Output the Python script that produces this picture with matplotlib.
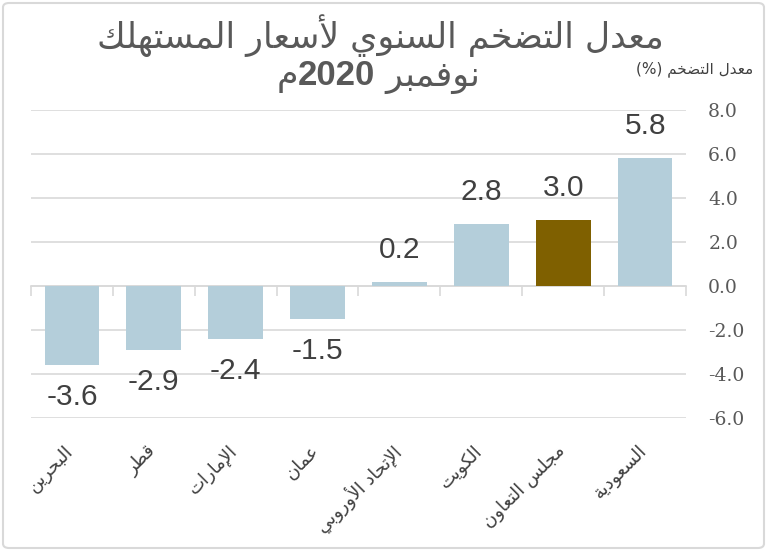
import numpy as np
import matplotlib
matplotlib.use("Agg")
import matplotlib.pyplot as plt
import matplotlib.transforms as mtransforms
from matplotlib.patches import FancyBboxPatch
from matplotlib.offsetbox import TextArea, HPacker, AnnotationBbox
from matplotlib.ticker import FuncFormatter

# ---------------- data ----------------
categories = ["البحرين", "قطر", "الإمارات", "عمان", "الإتحاد الأوروبي",
              "الكويت", "مجلس التعاون", "السعودية"]
values = [-3.6, -2.9, -2.4, -1.5, 0.2, 2.8, 3.0, 5.8]
highlight = "مجلس التعاون"
yticks = [-6.0, -4.0, -2.0, 0.0, 2.0, 4.0, 6.0, 8.0]
title_line1 = "معدل التضخم السنوي لأسعار المستهلك"
title_month = "نوفمبر"
title_year = "2020"
title_suffix = "م"
ylabel_text = "معدل التضخم (%)"

# ---------------- minimal Arabic shaping ----------------
F = {
 '\u0621': ('\uFE80', None, None, None),
 '\u0622': ('\uFE81', '\uFE82', None, None),
 '\u0623': ('\uFE83', '\uFE84', None, None),
 '\u0624': ('\uFE85', '\uFE86', None, None),
 '\u0625': ('\uFE87', '\uFE88', None, None),
 '\u0626': ('\uFE89', '\uFE8A', '\uFE8B', '\uFE8C'),
 '\u0627': ('\uFE8D', '\uFE8E', None, None),
 '\u0628': ('\uFE8F', '\uFE90', '\uFE91', '\uFE92'),
 '\u0629': ('\uFE93', '\uFE94', None, None),
 '\u062A': ('\uFE95', '\uFE96', '\uFE97', '\uFE98'),
 '\u062B': ('\uFE99', '\uFE9A', '\uFE9B', '\uFE9C'),
 '\u062C': ('\uFE9D', '\uFE9E', '\uFE9F', '\uFEA0'),
 '\u062D': ('\uFEA1', '\uFEA2', '\uFEA3', '\uFEA4'),
 '\u062E': ('\uFEA5', '\uFEA6', '\uFEA7', '\uFEA8'),
 '\u062F': ('\uFEA9', '\uFEAA', None, None),
 '\u0630': ('\uFEAB', '\uFEAC', None, None),
 '\u0631': ('\uFEAD', '\uFEAE', None, None),
 '\u0632': ('\uFEAF', '\uFEB0', None, None),
 '\u0633': ('\uFEB1', '\uFEB2', '\uFEB3', '\uFEB4'),
 '\u0634': ('\uFEB5', '\uFEB6', '\uFEB7', '\uFEB8'),
 '\u0635': ('\uFEB9', '\uFEBA', '\uFEBB', '\uFEBC'),
 '\u0636': ('\uFEBD', '\uFEBE', '\uFEBF', '\uFEC0'),
 '\u0637': ('\uFEC1', '\uFEC2', '\uFEC3', '\uFEC4'),
 '\u0638': ('\uFEC5', '\uFEC6', '\uFEC7', '\uFEC8'),
 '\u0639': ('\uFEC9', '\uFECA', '\uFECB', '\uFECC'),
 '\u063A': ('\uFECD', '\uFECE', '\uFECF', '\uFED0'),
 '\u0641': ('\uFED1', '\uFED2', '\uFED3', '\uFED4'),
 '\u0642': ('\uFED5', '\uFED6', '\uFED7', '\uFED8'),
 '\u0643': ('\uFED9', '\uFEDA', '\uFEDB', '\uFEDC'),
 '\u0644': ('\uFEDD', '\uFEDE', '\uFEDF', '\uFEE0'),
 '\u0645': ('\uFEE1', '\uFEE2', '\uFEE3', '\uFEE4'),
 '\u0646': ('\uFEE5', '\uFEE6', '\uFEE7', '\uFEE8'),
 '\u0647': ('\uFEE9', '\uFEEA', '\uFEEB', '\uFEEC'),
 '\u0648': ('\uFEED', '\uFEEE', None, None),
 '\u0649': ('\uFEEF', '\uFEF0', None, None),
 '\u064A': ('\uFEF1', '\uFEF2', '\uFEF3', '\uFEF4'),
}
LAMALEF = {'\u0622': ('\uFEF5', '\uFEF6'), '\u0623': ('\uFEF7', '\uFEF8'),
           '\u0625': ('\uFEF9', '\uFEFA'), '\u0627': ('\uFEFB', '\uFEFC')}
MIRROR = {'(': ')', ')': '(', '[': ']', ']': '['}


def shape(text):
    out = []
    i = 0
    n = len(text)
    while i < n:
        c = text[i]
        if c not in F:
            out.append(c)
            i += 1
            continue
        prev_j = i > 0 and text[i - 1] in F and F[text[i - 1]][2] is not None
        if c == '\u0644' and i + 1 < n and text[i + 1] in LAMALEF:
            iso, fin = LAMALEF[text[i + 1]]
            out.append(fin if prev_j else iso)
            i += 2
            continue
        f = F[c]
        next_j = (i + 1 < n and text[i + 1] in F and f[2] is not None
                  and F[text[i + 1]][1] is not None)
        can_prev = prev_j and f[1] is not None
        if can_prev and next_j:
            out.append(f[3])
        elif can_prev:
            out.append(f[1])
        elif next_j:
            out.append(f[2])
        else:
            out.append(f[0])
        i += 1
    s = ''.join(out)
    # visual reorder (RTL base, keep LTR digit/latin runs)
    tokens = []
    cur = ''
    cur_ltr = None
    for ch in s:
        is_ltr = ch.isascii() and (ch.isalnum() or ch == '.')
        if cur_ltr is None or is_ltr == cur_ltr:
            cur += ch
        else:
            tokens.append((cur, cur_ltr))
            cur = ch
        cur_ltr = is_ltr
    if cur:
        tokens.append((cur, cur_ltr))
    res = []
    for tok, ltr in reversed(tokens):
        if ltr:
            res.append(tok)
        else:
            res.append(''.join(MIRROR.get(ch, ch) for ch in reversed(tok)))
    return ''.join(res)


# ---------------- styling ----------------
W, H = 767, 551
fig = plt.figure(figsize=(W / 100, H / 100), dpi=100)
fig.patch.set_facecolor('white')

arabic_font = ['DejaVu Sans']
num_font = ['Liberation Sans', 'DejaVu Sans']
tick_font = ['DejaVu Serif']
grid_c = '#D9D9D9'
text_c = '#404040'
title_c = '#595959'
bar_c = '#B4CEDA'
hi_c = '#7F6000'

# rounded border
fig.patches.append(FancyBboxPatch((3 / W, 3 / H), 1 - 6 / W, 1 - 6 / H,
                                  boxstyle="round,pad=0,rounding_size=0.008",
                                  transform=fig.transFigure, facecolor='none',
                                  edgecolor=grid_c, linewidth=1.5))

ax = fig.add_axes([31 / W, 1 - 418 / H, (686 - 31) / W, (418 - 110) / H])
x = np.arange(len(categories))
colors = [hi_c if c == highlight else bar_c for c in categories]
bars = ax.bar(x, values, width=0.67, color=colors, zorder=2)

ax.set_xlim(-0.5, len(categories) - 0.5)
ax.set_ylim(min(yticks), max(yticks))
for s in ax.spines.values():
    s.set_visible(False)

ax.yaxis.tick_right()
ax.set_yticks(yticks)
ax.yaxis.set_major_formatter(FuncFormatter(lambda v, p: f"{v:.1f}"))
ax.tick_params(axis='y', length=0, pad=16, labelsize=13.5, labelcolor=title_c)
for lab in ax.get_yticklabels():
    lab.set_family(tick_font)
ax.yaxis.grid(True, color=grid_c, linewidth=1.2, zorder=0)
ax.set_axisbelow(True)

ax.set_xticks(x)
ax.set_xticklabels([shape(c) for c in categories], rotation=45, ha='right',
                   va='top', rotation_mode='anchor', fontsize=13,
                   color=text_c, family=arabic_font)
ax.tick_params(axis='x', length=0, pad=17)
shift = mtransforms.ScaledTranslation(-8 / 100, 0, fig.dpi_scale_trans)
for lab in ax.get_xticklabels():
    lab.set_transform(lab.get_transform() + shift)

# zero axis with boundary ticks
sec = ax.secondary_xaxis(0, transform=ax.transData)
sec.set_xticks(np.arange(len(categories) + 1) - 0.5)
sec.tick_params(axis='x', length=7, width=1.2, color=grid_c, labelbottom=False,
                direction='out')
sec.spines['bottom'].set_color(grid_c)
sec.spines['bottom'].set_linewidth(1.2)

# value labels
for b, v in zip(bars, values):
    off = 13 if v >= 0 else -13
    ax.annotate(f"{v:.1f}", (b.get_x() + b.get_width() / 2, v),
                xytext=(0, off), textcoords='offset points',
                ha='center', va='bottom' if v >= 0 else 'top',
                fontsize=21.5, color=text_c, family=num_font)

# titles
fig.text(380 / W, 1 - 36 / H, shape(title_line1), ha='center', va='center',
         fontsize=25, color=title_c, family=arabic_font)
pack = HPacker(children=[
    TextArea(shape(title_suffix), textprops=dict(fontsize=25, color=title_c, family=arabic_font)),
    TextArea(title_year, textprops=dict(fontsize=25, color=title_c, family=num_font, weight='bold')),
    TextArea(" " + shape(title_month), textprops=dict(fontsize=25, color=title_c, family=arabic_font)),
], sep=0, align='baseline', pad=0)
ab = AnnotationBbox(pack, (378 / W, 1 - 76 / H), xycoords='figure fraction',
                    frameon=False, box_alignment=(0.5, 0.5))
fig.add_artist(ab)

fig.text(695 / W, 1 - 69 / H, shape(ylabel_text), ha='center', va='center',
         fontsize=11, color=text_c, family=arabic_font)

fig.savefig("out.png", dpi=100)
